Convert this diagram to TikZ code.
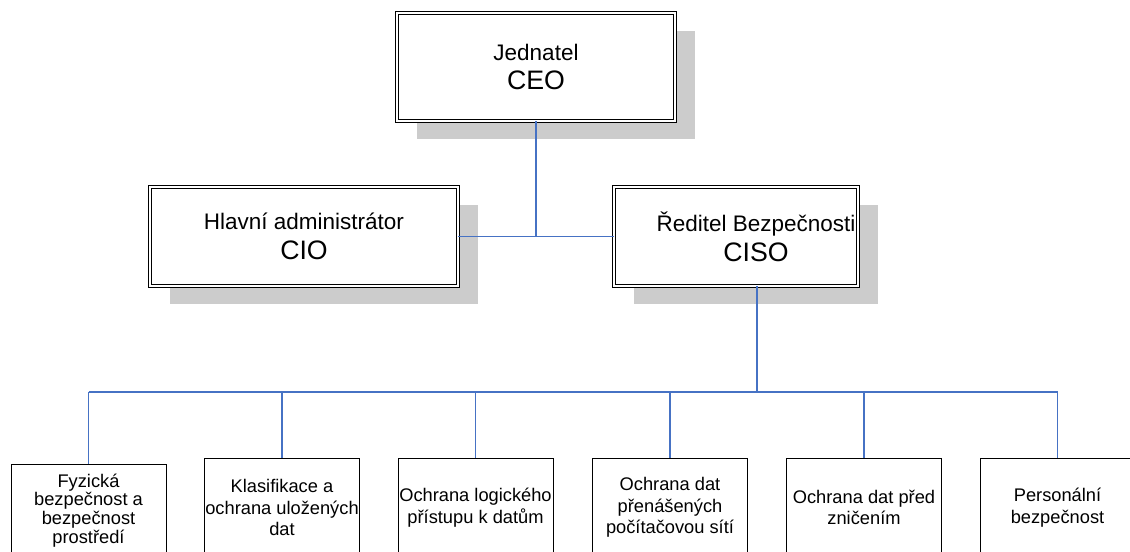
\documentclass[tikz,border=0pt]{standalone}
\usepackage{fontspec}
\setmainfont{Liberation Sans}
\usepackage{tikz}
\usetikzlibrary{shadows}
\usetikzlibrary{positioning}
\definecolor{linkblue}{RGB}{70,114,196}
\newcommand{\rolepair}[2]{{\fontsize{16}{21.3}\selectfont #1}\\#2}

\begin{document}
\begin{tikzpicture}[
    chief/.style={draw, double, line width=0.7pt, double distance=1.3pt, fill=white,
      general shadow={fill=gray!40, shadow xshift=0.5cm, shadow yshift=-0.45cm},
      align=center, inner sep=0pt, font=\fontsize{19}{21.3}\selectfont},
    area/.style={draw, line width=0.7pt, fill=white, minimum width=3.875cm,
      minimum height=2.45cm, anchor=south, align=center, inner sep=0pt,
      font=\fontsize{13}{15.2}\selectfont},
    link/.style={draw=linkblue, line width=1pt}]
  \useasboundingbox (0,0) rectangle (28.25,13.8);
  % management
  \node[chief, minimum width=6.95cm, minimum height=2.7cm] (ceo) at (13.4,12.125)
    {\rolepair{Jednatel}{CEO}};
  \node[chief, minimum width=7.7cm, minimum height=2.475cm] (cio) at (7.6,7.8875)
    {\rolepair{Hlavní administrátor}{CIO}};
  \node[chief, minimum width=6.1cm, minimum height=2.475cm] (ciso) at (18.4,7.8875) {};
  \node[align=center, inner sep=0pt, font=\fontsize{19}{21.3}\selectfont] (cisotext)
    at ([xshift=0.5cm]ciso.center) {\rolepair{Ředitel Bezpečnosti}{CISO}};
  % security areas
  \node[area, minimum height=2.3cm, font=\fontsize{13}{13.4}\selectfont] (fyz) at (2.2125,-0.125)
    {Fyzická\\bezpečnost a\\bezpečnost\\prostředí};
  \node[area] (klas) at (7.05,-0.125) {Klasifikace a\\ochrana uložených\\dat};
  \node[area] (logic) at (11.8875,-0.125) {Ochrana logického\\přístupu k datům};
  \node[area] (sit) at (16.75,-0.125) {Ochrana dat\\přenášených\\počítačovou sítí};
  \node[area] (znic) at (21.6,-0.125) {Ochrana dat před\\zničením};
  \node[area] (pers) at (26.4375,-0.125) {Personální\\bezpečnost};
  % connectors
  \coordinate (hub) at (ceo.south |- cio.east);
  \coordinate (bus) at (18.925,4.0);
  \draw[link] (ceo.south) -- (hub);
  \draw[link] (cio.east) -- (ciso.west);
  \draw[link, line width=1.4pt] (bus |- ciso.south) -- (bus);
  \draw[link] (fyz.north |- bus) -- (pers.north |- bus);
  \draw[link] (fyz.north |- bus) -- (fyz.north);
  \draw[link] (klas.north |- bus) -- (klas.north);
  \draw[link] (logic.north |- bus) -- (logic.north);
  \draw[link] (sit.north |- bus) -- (sit.north);
  \draw[link] (znic.north |- bus) -- (znic.north);
  \draw[link] (pers.north |- bus) -- (pers.north);
\end{tikzpicture}
\end{document}
